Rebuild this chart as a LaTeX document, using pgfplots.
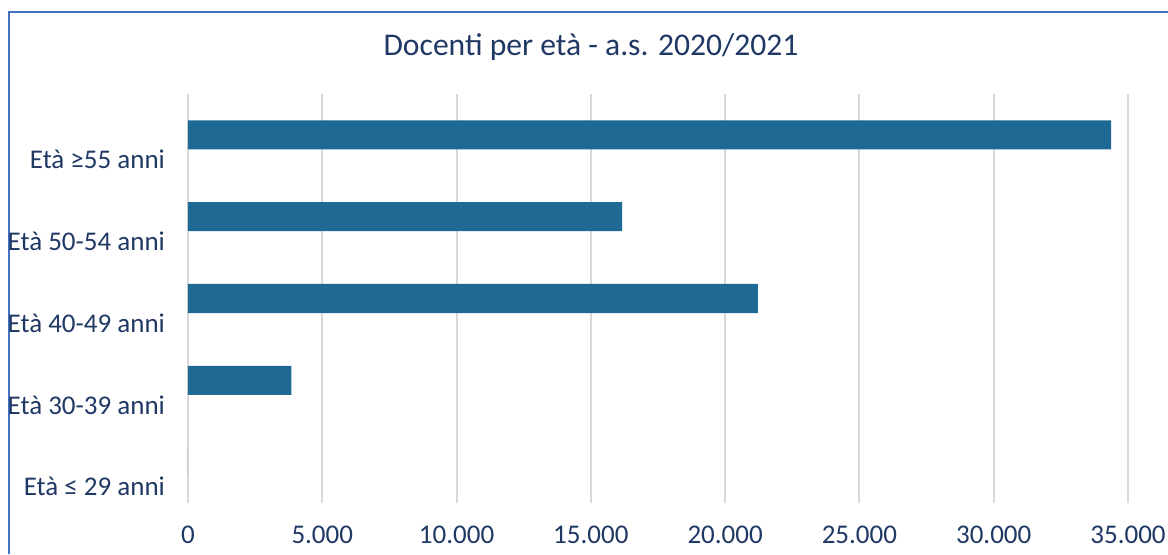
\documentclass[border=0pt]{standalone}
\usepackage{fontspec}
\setmainfont{Carlito}
\usepackage{pgfplots}
\pgfplotsset{compat=1.18}
\definecolor{barblue}{HTML}{1F6A94}
\definecolor{txtnavy}{HTML}{1F3864}
\definecolor{gridgray}{HTML}{D9D9D9}
\definecolor{frameblue}{HTML}{4472C4}

\begin{document}
\begin{tikzpicture}
\useasboundingbox (0,0) rectangle (584pt,277pt);
\draw[frameblue, line width=1pt] (4.5pt,0) -- (4.5pt,271pt) -- (584pt,271pt);
\node[txtnavy, font=\fontsize{15.8}{18}\selectfont] at (295.5pt,253.5pt) {Docenti per età - a.s. 2020/2021};
\begin{axis}[
    at={(94pt,25.5pt)}, anchor=south west,
    width=470pt, height=204.5pt, scale only axis,
    xbar, bar width=0.355,
    xmin=0, xmax=35000,
    ymin=-0.5, ymax=4.5,
    xtick={0,5000,...,35000},
    scaled x ticks=false,
    ytick={-0.3,0.7,1.7,2.7,3.7},
    yticklabels={Età ≤ 29 anni, Età 30-39 anni, Età 40-49 anni, Età 50-54 anni, Età ≥55 anni},
    axis line style={draw=none},
    major tick length=0pt,
    xmajorgrids, grid style={gridgray, line width=1pt},
    ticklabel style={txtnavy, font=\fontsize{13.5}{15}\selectfont},
    xticklabel style={anchor=center, yshift=-16pt},
    yticklabel style={anchor=east, xshift=-8pt},
    /pgf/number format/.cd, 1000 sep={.}, assume math mode=true,
]
\addplot[fill=barblue, draw=none] coordinates {
    (0,0) (3850,1) (21220,2) (16160,3) (34370,4)
};
\end{axis}
\end{tikzpicture}
\end{document}
